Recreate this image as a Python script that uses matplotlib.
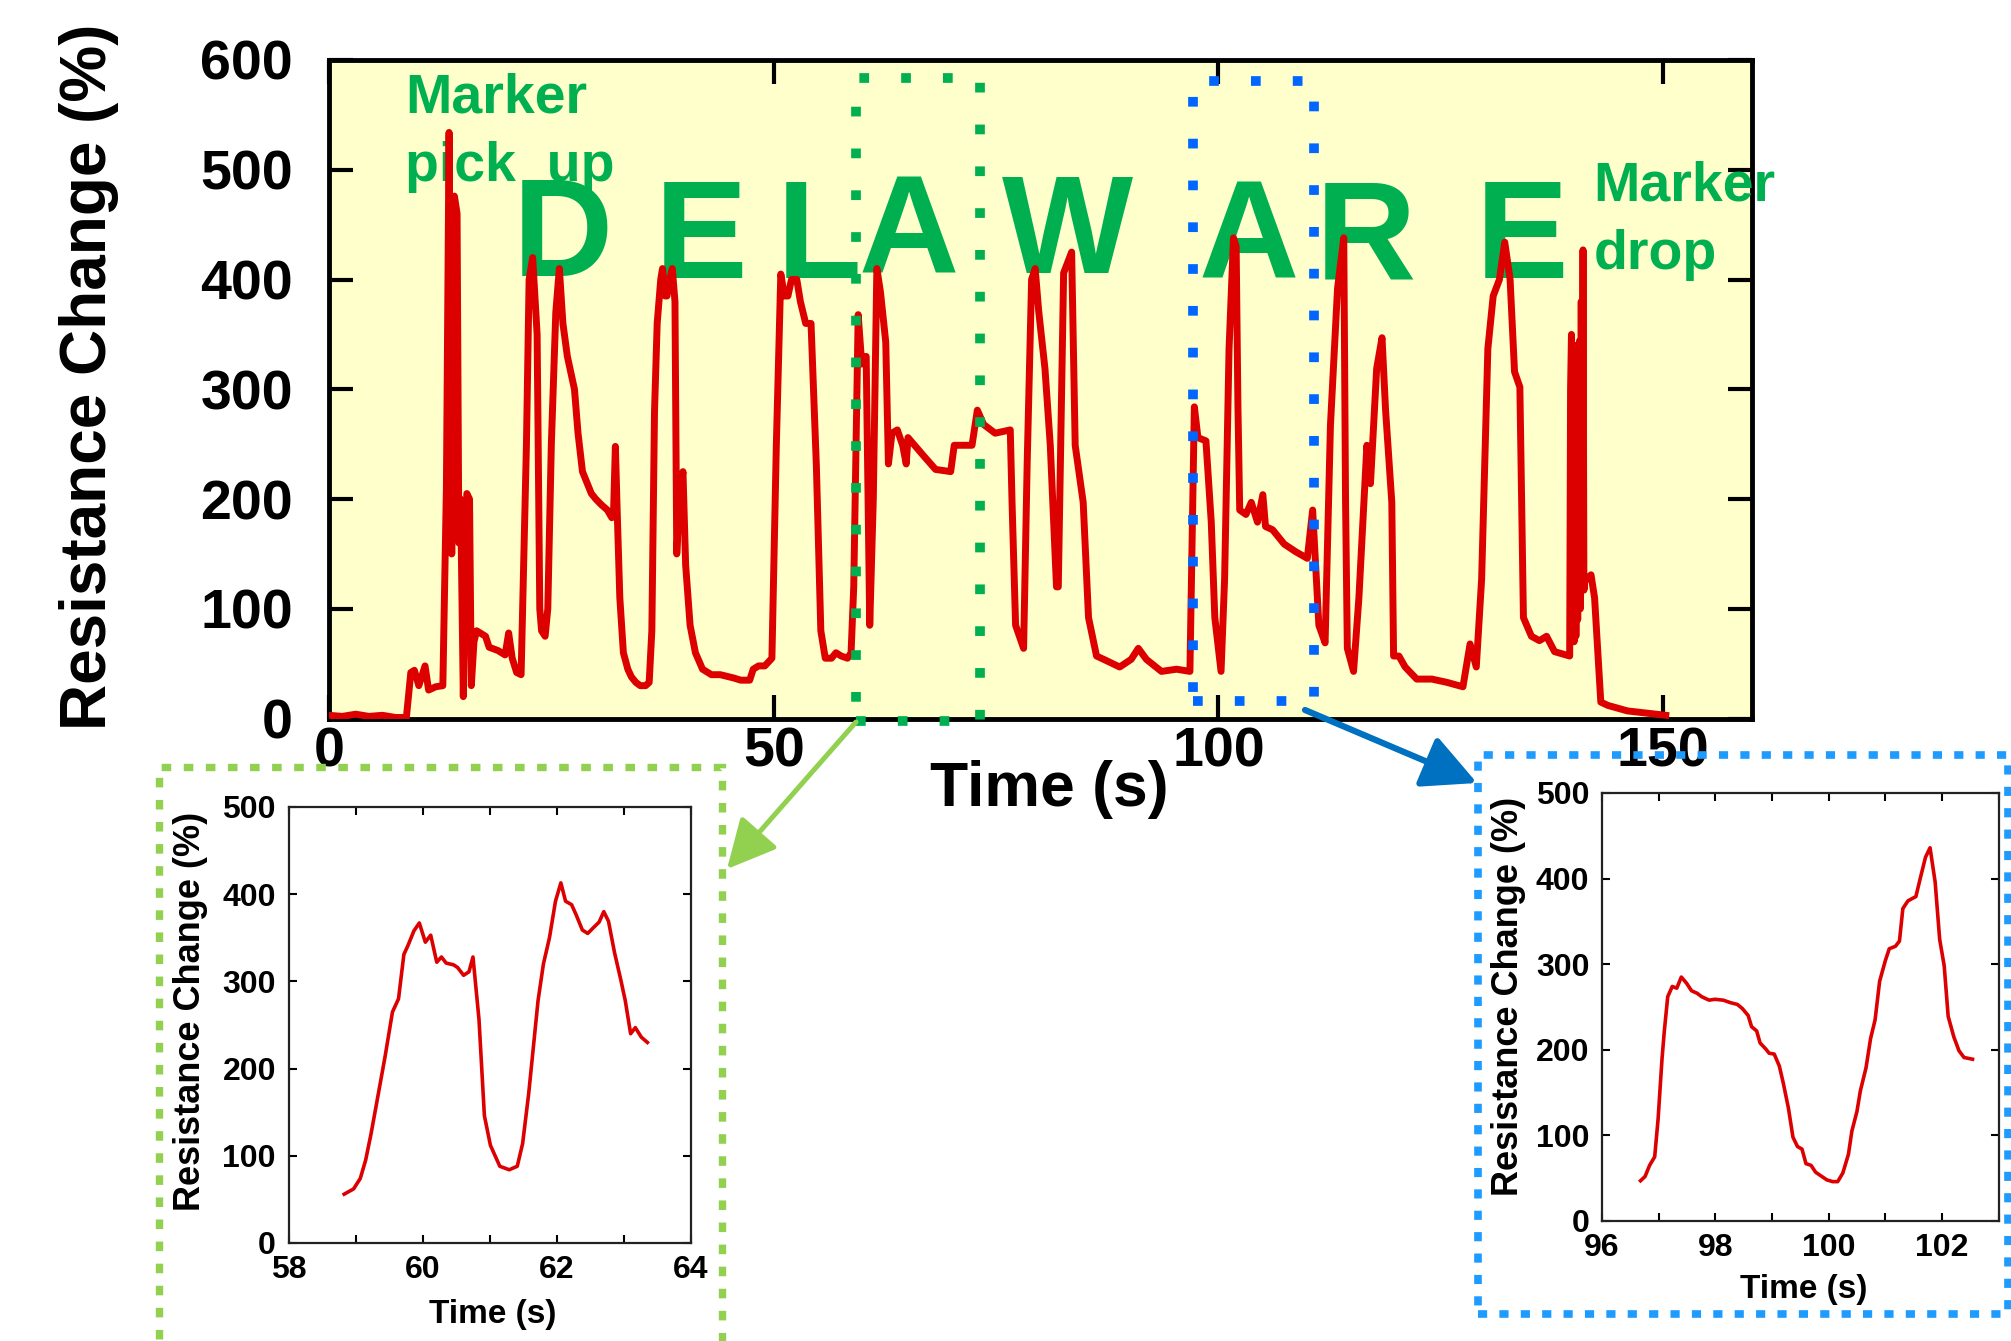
import matplotlib
matplotlib.use('Agg')
import matplotlib.pyplot as plt
from matplotlib.patches import Rectangle, FancyArrowPatch, ArrowStyle

# ---------------- data ----------------
time_main = [0.0, 1.5, 3.0, 4.5, 6.0, 7.5, 8.7, 9.2, 9.6, 10.1, 10.8, 11.2, 12.0, 12.8,
             13.2, 13.5, 13.8, 14.1, 14.4, 14.6, 14.8, 15.1, 15.5, 15.8, 16.0, 16.3, 16.6,
             17.6, 18.0, 19.0, 19.8, 20.2, 20.6, 21.1, 21.6, 22.2, 22.5, 22.9, 23.4, 23.7,
             23.9, 24.3, 24.6, 25.0, 25.5, 25.9, 26.3, 26.8, 27.2, 27.6, 28.0, 28.5, 29.0,
             29.5, 30.0, 30.6, 31.3, 31.8, 32.0, 32.2, 32.4, 32.7, 33.1, 33.6, 34.0, 34.5,
             35.0, 35.6, 36.0, 36.3, 36.6, 36.9, 37.3, 37.5, 37.8, 38.0, 38.3, 38.6, 38.9,
             39.1, 39.4, 39.8, 40.1, 40.6, 41.2, 42.0, 43.0, 44.0, 45.5, 46.3, 47.3, 47.7,
             48.3, 49.0, 49.8, 50.3, 50.8, 51.2, 51.6, 52.0, 52.6, 53.0, 53.6, 54.2, 54.8,
             55.3, 55.8, 56.5, 57.0, 57.6, 58.3, 58.7, 59.0, 59.5, 59.9, 60.4, 60.8, 61.2,
             61.6, 62.0, 62.6, 62.9, 63.3, 63.9, 64.5, 64.9, 65.1, 66.9, 68.2, 69.9, 70.3,
             72.3, 72.9, 73.6, 74.9, 76.6, 76.8, 77.2, 78.1, 78.5, 79.0, 79.4, 79.8, 80.5,
             81.1, 81.8, 82.0, 82.6, 83.5, 83.9, 84.8, 85.4, 86.3, 87.1, 88.9, 90.2, 91.0,
             91.9, 93.6, 95.3, 96.8, 97.3, 97.7, 98.6, 99.2, 99.6, 100.3, 100.7, 101.2,
             101.7, 102.0, 102.2, 102.4, 103.1, 103.7, 104.4, 105.0, 105.3, 106.1, 107.4,
             108.7, 110.0, 110.6, 111.3, 112.0, 112.6, 113.4, 114.1, 114.3, 114.5, 115.2,
             115.8, 116.7, 117.1, 117.8, 118.4, 118.8, 119.5, 119.7, 120.3, 121.0, 122.3,
             124.0, 125.7, 127.5, 128.3, 129.0, 129.6, 130.3, 130.9, 131.6, 132.2, 132.8,
             133.3, 133.9, 134.3, 135.2, 136.1, 136.9, 137.8, 139.5, 139.6, 139.7, 139.8,
             139.9, 140.0, 140.1, 140.2, 140.3, 140.4, 140.5, 140.6, 140.7, 140.8, 140.9,
             141.0, 141.1, 141.2, 141.9, 142.3, 143.0, 143.8, 146.0, 148.1, 150.3]
resistance_main = [3, 2, 4, 2, 3, 1, 1, 42, 44, 30, 48, 26, 29, 30,
                   210, 534, 150, 476, 460, 160, 200, 20, 205, 200, 30, 70, 80,
                   75, 65, 62, 58, 78, 55, 42, 40, 250, 400, 420, 350, 100,
                   80, 75, 100, 250, 370, 410, 360, 330, 315, 300, 260, 225, 215,
                   205, 200, 195, 190, 183, 190, 248, 190, 110, 60, 45, 38, 33,
                   30, 30, 33, 80, 280, 360, 400, 410, 385, 385, 400, 410, 380,
                   150, 200, 225, 140, 85, 60, 45, 40, 40, 37, 35, 35, 45,
                   48, 48, 55, 250, 405, 385, 385, 400, 400, 380, 360, 360, 230,
                   80, 55, 55, 60, 57, 55, 60, 120, 368, 323, 330, 85, 200,
                   410, 389, 343, 232, 260, 263, 249, 232, 256, 239, 227, 225, 249,
                   249, 281, 268, 260, 263, 197, 85, 64, 232, 400, 410, 371, 319,
                   249, 120, 120, 406, 425, 249, 197, 92, 57, 54, 47, 54, 64,
                   54, 43, 45, 43, 284, 256, 253, 179, 92, 43, 127, 337,
                   438, 430, 284, 190, 186, 197, 179, 204, 175, 172, 159,
                   152, 146, 190, 85, 69, 267, 392, 438, 197, 64, 43,
                   110, 249, 214, 319, 347, 281, 197, 57, 57, 47, 36,
                   36, 33, 29, 68, 47, 127, 337, 385, 400, 434, 400,
                   316, 302, 92, 75, 71, 75, 61, 57, 300, 350, 70,
                   340, 70, 330, 75, 340, 90, 320, 344, 100, 380, 120,
                   427, 117, 125, 131, 110, 15, 12, 7, 5, 3]

time_zoom1 = [58.83, 58.97, 59.07, 59.15, 59.23, 59.32, 59.44, 59.55, 59.64, 59.72, 59.78,
              59.87, 59.95, 60.04, 60.12, 60.21, 60.28, 60.35, 60.46, 60.52, 60.61, 60.69,
              60.75, 60.84, 60.92, 61.01, 61.15, 61.29, 61.41, 61.49, 61.58, 61.72, 61.80,
              61.89, 61.98, 62.06, 62.13, 62.22, 62.29, 62.38, 62.46, 62.55, 62.63, 62.70,
              62.77, 62.86, 62.95, 63.02, 63.10, 63.17, 63.26, 63.35]
resistance_zoom1 = [56, 62, 74, 95, 125, 163, 214, 265, 280, 331, 341,
                    358, 367, 345, 353, 322, 328, 321, 319, 316, 307, 311,
                    328, 256, 146, 112, 88, 84, 88, 114, 171, 278, 320,
                    350, 392, 413, 392, 388, 376, 359, 355, 362, 368, 380,
                    369, 333, 303, 278, 240, 247, 236, 230]

time_zoom2 = [96.68, 96.76, 96.84, 96.93, 96.99, 97.06, 97.10, 97.16, 97.24, 97.32, 97.40,
              97.49, 97.58, 97.68, 97.76, 97.89, 97.99, 98.14, 98.27, 98.39, 98.48, 98.58,
              98.64, 98.73, 98.79, 98.89, 98.95, 99.04, 99.13, 99.20, 99.29, 99.37, 99.45,
              99.53, 99.60, 99.69, 99.77, 99.88, 99.97, 100.07, 100.16, 100.25, 100.35,
              100.41, 100.50, 100.56, 100.66, 100.74, 100.82, 100.90, 101.00, 101.07,
              101.18, 101.25, 101.31, 101.40, 101.54, 101.62, 101.71, 101.79, 101.88,
              101.96, 102.04, 102.11, 102.21, 102.30, 102.39, 102.54]
resistance_zoom2 = [47, 52, 65, 75, 119, 190, 222, 262, 274, 272, 285,
                    278, 269, 266, 262, 258, 259, 258, 255, 253, 248, 240,
                    227, 222, 208, 201, 196, 195, 181, 161, 132, 98, 87,
                    84, 67, 65, 57, 52, 48, 46, 46, 56, 78,
                    105, 128, 152, 179, 213, 235, 280, 304, 318,
                    321, 327, 365, 374, 379, 401, 425, 436, 396,
                    329, 298, 239, 215, 199, 191, 189]

main_xticks = [0, 50, 100, 150]
main_yticks = [0, 100, 200, 300, 400, 500, 600]
inset_yticks = [0, 100, 200, 300, 400, 500]
zoom1_xticks = [58, 60, 62, 64]
zoom1_xminor = [59, 61, 63]
zoom2_xticks = [96, 98, 100, 102]
zoom2_xminor = [97, 99, 101, 103]

letters = ['D', 'E', 'L', 'A', 'W', 'A', 'R', 'E']
letter_t = [26.35, 41.89, 55.07, 65.20, 83.00, 103.38, 116.55, 134.12]
letter_v = [402.9, 401.1, 401.1, 405.7, 405.7, 401.1, 401.1, 401.1]

# ---------------- figure ----------------
W, H = 2011, 1341
plt.rcParams['font.family'] = ['Liberation Sans', 'DejaVu Sans']
plt.rcParams['font.weight'] = 'bold'
fig = plt.figure(figsize=(W / 100, H / 100), dpi=100)


def fx(px):
    return px / W


def fy(py):
    return 1 - py / H


def box(l, t, r, b):
    return [fx(l), fy(b), fx(r) - fx(l), fy(t) - fy(b)]


RED = '#DD0000'
GREEN = '#00B050'

# main axes
ax = fig.add_axes(box(329, 60, 1752, 718.6))
ax.set_facecolor('#FFFFCC')
ax.plot(time_main, resistance_main, color=RED, lw=5, zorder=5, solid_joinstyle='round')
ax.set_xlim(0, 160)
ax.set_ylim(0, 600)
ax.set_xticks(main_xticks)
ax.set_yticks(main_yticks)
for s in ax.spines.values():
    s.set_linewidth(3.5)
ax.tick_params(direction='in', length=17, width=3, top=True, right=True, labelsize=40)
ax.tick_params(axis='x', pad=6)
ax.tick_params(axis='y', pad=26)
ax.set_xlabel('Time (s)', fontsize=45, fontweight='bold')
ax.xaxis.set_label_coords(0.506, -0.107)
ax.xaxis.label.set_va('center')
ax.set_ylabel('Resistance Change (%)', fontsize=46, fontweight='bold')
ax.yaxis.set_label_coords(-0.1687, 0.5187)
ax.yaxis.label.set_va('center')

for ch, t, v in zip(letters, letter_t, letter_v):
    ax.text(t, v, ch, fontsize=100, fontweight='bold', color=GREEN, ha='center',
            va='baseline', zorder=3)

ax.text(8.56, 552, 'Marker', fontsize=40, fontweight='bold', color=GREEN, va='baseline', zorder=3)
ax.text(8.56, 490, 'pick  up', fontsize=40, fontweight='bold', color=GREEN, va='baseline', zorder=3)
ax.text(142.2, 472, 'Marker', fontsize=40, fontweight='bold', color=GREEN, va='baseline',
        zorder=3, clip_on=False)
ax.text(142.2, 410, 'drop', fontsize=40, fontweight='bold', color=GREEN, va='baseline',
        zorder=3, clip_on=False)

ax.add_patch(Rectangle((59.3, -2.2), 73.2 - 59.3, 584 + 2.2, fill=False, edgecolor=GREEN,
                       lw=7, linestyle=(0, (1, 3.3)), zorder=6, clip_on=False))
ax.add_patch(Rectangle((97.1, 16), 110.8 - 97.1, 581 - 16, fill=False, edgecolor='#0066FF',
                       lw=7, linestyle=(0, (1, 3.3)), zorder=6, clip_on=False))


def style_inset(a, xt, xm):
    a.set_xticks(xt)
    a.set_xticks(xm, minor=True)
    a.set_yticks(inset_yticks)
    a.set_ylim(0, 500)
    for s in a.spines.values():
        s.set_linewidth(1.6)
        s.set_color('#222222')
    a.tick_params(which='both', direction='in', length=6, width=1.5, top=True, right=True,
                  labelsize=23, pad=9)


# inset 1
ax1 = fig.add_axes(box(288.5, 807, 691, 1243))
ax1.plot(time_zoom1, resistance_zoom1, color=RED, lw=2.6)
ax1.set_xlim(58, 64)
style_inset(ax1, zoom1_xticks, zoom1_xminor)
ax1.set_xlabel('Time (s)', fontsize=24, fontweight='bold')
ax1.xaxis.set_label_coords(0.508, -0.165)
ax1.xaxis.label.set_va('center')
ax1.set_ylabel('Resistance Change (%)', fontsize=26, fontweight='bold')
ax1.yaxis.set_label_coords(-0.2435, 0.532)
ax1.yaxis.label.set_va('center')

# inset 2
ax2 = fig.add_axes(box(1602, 793, 1998.6, 1221))
ax2.plot(time_zoom2, resistance_zoom2, color=RED, lw=2.6)
ax2.set_xlim(96, 103)
style_inset(ax2, zoom2_xticks, zoom2_xminor)
ax2.set_xlabel('Time (s)', fontsize=24, fontweight='bold')
ax2.xaxis.set_label_coords(0.509, -0.159)
ax2.xaxis.label.set_va('center')
ax2.set_ylabel('Resistance Change (%)', fontsize=26, fontweight='bold')
ax2.yaxis.set_label_coords(-0.2345, 0.5245)
ax2.yaxis.label.set_va('center')

# inset frames
fig.add_artist(Rectangle((fx(159), fy(1380)), fx(722) - fx(159), fy(767) - fy(1380),
                         transform=fig.transFigure, fill=False, edgecolor='#92D050',
                         lw=5.3, linestyle=(0, (1.3, 1.7))))
fig.add_artist(Rectangle((fx(1477.6), fy(1313.8)), fx(2008) - fx(1477.6),
                         fy(754.6) - fy(1313.8), transform=fig.transFigure, fill=False,
                         edgecolor='#1E9BFF', lw=5.5, linestyle=(0, (1.2, 1.6))))

# arrows
fig.add_artist(FancyArrowPatch((fx(856), fy(722)), (fx(727), fy(869)),
                               transform=fig.transFigure,
                               arrowstyle=ArrowStyle('-|>', head_length=2.0, head_width=1.0),
                               mutation_scale=15, color='#92D050', lw=3.6,
                               shrinkA=0, shrinkB=0))
fig.add_artist(FancyArrowPatch((fx(1305), fy(710)), (fx(1477), fy(783)),
                               transform=fig.transFigure,
                               arrowstyle=ArrowStyle('-|>', head_length=2.2, head_width=1.1),
                               mutation_scale=15, color='#0070C0', lw=4.5,
                               shrinkA=0, shrinkB=0))

fig.savefig('out.png', dpi=100)
